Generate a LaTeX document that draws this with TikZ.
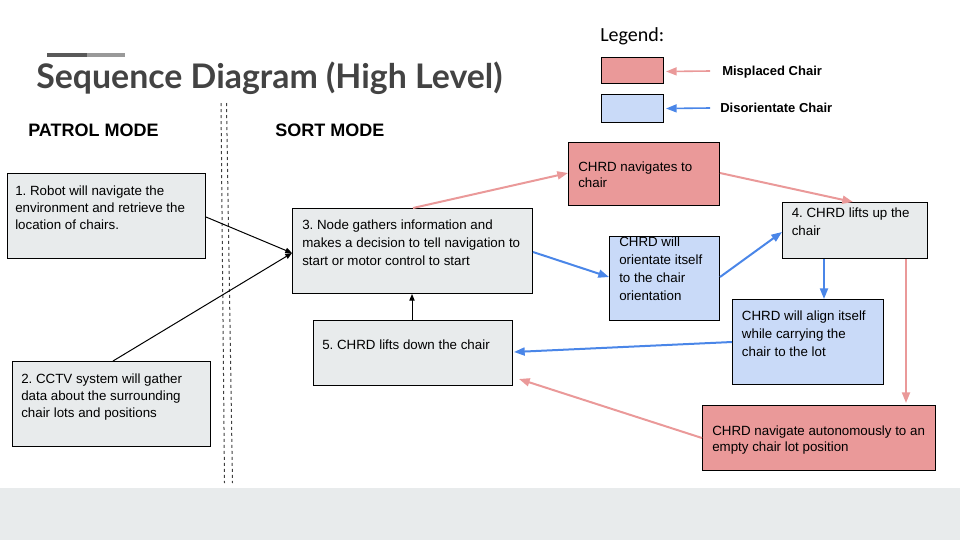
\documentclass[tikz,border=0pt]{standalone}
\usepackage{fontspec}
\setmainfont{Liberation Sans}
\newfontfamily\titlefont{Lato}
\newfontfamily\legendfont{Carlito}
\usetikzlibrary{arrows.meta,calc}
\definecolor{boxgrey}{HTML}{E8EBEC}
\definecolor{footgrey}{HTML}{E8EBEC}
\definecolor{redfill}{HTML}{EA9999}
\definecolor{bluefill}{HTML}{C9DAF8}
\definecolor{redline}{HTML}{EA9999}
\definecolor{blueline}{HTML}{4A86E8}
\definecolor{titlegrey}{HTML}{434343}
\definecolor{bardark}{HTML}{595959}
\definecolor{barlight}{HTML}{999999}
\newcommand{\boxtext}[2]{\parbox[t]{#1}{\frenchspacing\raggedright #2}}
\frenchspacing
\tikzset{
  box/.style={draw=black, line width=0.75pt, anchor=north west, inner sep=0pt, fill=boxgrey},
  rbox/.style={box, fill=redfill},
  bbox/.style={box, fill=bluefill},
  txt/.style={anchor=base west, inner sep=0pt, font=\fontsize{10}{13.5}\selectfont},
  blk/.style={-{Triangle[length=5pt,width=4pt]}, line width=0.75pt, draw=black},
  redarr/.style={-{Triangle[length=8pt,width=6pt]}, line width=1.5pt, draw=redline},
  bluarr/.style={-{Triangle[length=8pt,width=6pt]}, line width=1.5pt, draw=blueline},
  divider/.style={draw=black!75, line width=0.75pt, dash pattern=on 2.25pt off 2.25pt},
}
\begin{document}
\begin{tikzpicture}[x=0.75pt,y=-0.75pt]
\useasboundingbox (0,0) rectangle (960,540);
% footer band
\fill[footgrey] (0,488) rectangle (960,540);
% title bars
\fill[bardark] (47,53) rectangle (87,57);
\fill[barlight] (87,53) rectangle (125,57);
\node[anchor=base west, inner sep=0pt, font=\titlefont\bfseries\fontsize{25.4}{30}\selectfont, text=titlegrey] (title) at (36,88) {Sequence Diagram (High Level)};
% mode labels
\node[anchor=base west, inner sep=0pt, font=\bfseries\fontsize{13.5}{16}\selectfont] (patrol) at (28,136) {PATROL MODE};
\node[anchor=base west, inner sep=0pt, font=\bfseries\fontsize{13.5}{16}\selectfont] (sort) at (275,136) {SORT MODE};
% dividers
\coordinate (d1a) at (221,103); \coordinate (d1b) at (224.5,483);
\coordinate (d2a) at (226.5,103); \coordinate (d2b) at (232.5,483);
\draw[divider] (d1a) -- (d1b);
\draw[divider] (d2a) -- (d2b);
% legend
\node[anchor=base west, inner sep=0pt, font=\legendfont\fontsize{15}{18}\selectfont] (legend) at (600,41.7) {Legend:};
\node[rbox, minimum width=62*0.75pt, minimum height=26*0.75pt] (lr) at (601,57) {};
\node[bbox, minimum width=62*0.75pt, minimum height=28*0.75pt] (lb) at (601,94) {};
\node[anchor=base west, inner sep=0pt, font=\bfseries\fontsize{9.75}{12}\selectfont] (lmis) at (722,75) {Misplaced Chair};
\node[anchor=base west, inner sep=0pt, font=\bfseries\fontsize{9.75}{12}\selectfont] (ldis) at (720,112.7) {Disorientate Chair};
\coordinate (lrs) at (710,71);
\coordinate (lbs) at (710,108);
\draw[redarr, line width=1.2pt] (lrs) -- ($(lr.east)+(2,1)$);
\draw[bluarr, line width=1.2pt] (lbs) -- ($(lb.east)+(2,0)$);
% boxes
\node[box, minimum width=198*0.75pt, minimum height=85*0.75pt] (b1) at (7,173) {};
\node[box, minimum width=198*0.75pt, minimum height=85*0.75pt] (b2) at (12,361) {};
\node[box, minimum width=240*0.75pt, minimum height=85*0.75pt] (b3) at (292,208) {};
\node[box, minimum width=199*0.75pt, minimum height=65*0.75pt] (b5) at (313,320) {};
\node[rbox, minimum width=151*0.75pt, minimum height=63*0.75pt] (nav) at (568,142) {};
\node[box, minimum width=145*0.75pt, minimum height=56*0.75pt] (b4) at (782,202) {};
\node[bbox, minimum width=110*0.75pt, minimum height=84*0.75pt] (ori) at (609,236) {};
\node[bbox, minimum width=151*0.75pt, minimum height=85*0.75pt] (ali) at (732,299) {};
\node[rbox, minimum width=233*0.75pt, minimum height=65*0.75pt] (emp) at (702,405) {};
% texts
\node[txt, font=\fontsize{10}{12.75}\selectfont] (t1) at (15,195) {\boxtext{140pt}{1. Robot will navigate the\\environment and retrieve the\\location of chairs.}};
\node[txt, font=\fontsize{10}{13.1}\selectfont] (t2) at (21,383) {\boxtext{140pt}{2. CCTV system will gather\\data about the surrounding\\chair lots and positions}};
\node[txt] (t3) at (302,229) {\boxtext{170pt}{3. Node gathers information and\\makes a decision to tell navigation to\\start or motor control to start}};
\node[txt] (t5) at (322,349) {\boxtext{140pt}{5. CHRD lifts down the chair}};
\node[txt, font=\fontsize{10}{12}\selectfont] (tnav) at (578,171) {\boxtext{100pt}{CHRD navigates to\\chair}};
\node[txt, font=\fontsize{10}{13.1}\selectfont] (t4) at (791.5,217.7) {\boxtext{100pt}{4. CHRD lifts up the\\chair}};
\node[txt] (tori) at (619,246.7) {\boxtext{75pt}{CHRD will\\orientate itself\\to the chair\\orientation}};
\node[txt] (tali) at (741.7,320) {\boxtext{105pt}{CHRD will align itself\\while carrying the\\chair to the lot}};
\node[txt, font=\fontsize{10}{12}\selectfont] (temp) at (712,435) {\boxtext{165pt}{CHRD navigate autonomously to an\\empty chair lot position}};
% connectors
\coordinate (in3) at ($(b3.north west)+(0,45)$);
\draw[blk] ($(b1.north east)+(0,44)$) -- (in3);
\draw[blk] ($(b2.north west)+(101,0)$) -- (in3);
\draw[blk] ($(b5.north west)+(99,0)$) -- ($(b3.south west)+(120,0)$);
\draw[redarr] ($(b3.north west)+(121,0)$) -- ($(nav.north west)+(0,31)$);
\draw[redarr] ($(nav.north east)+(0,31)$) -- ($(b4.north west)+(71,0)$);
\draw[redarr] ($(b4.south west)+(124,0)$) -- ($(emp.north west)+(204,-2)$);
\coordinate (r4end) at ($(b5.south east)+(6,-7)$);
\draw[redarr] ($(emp.north west)+(0,33)$) -- (r4end);
\draw[bluarr] ($(b3.north east)+(0,44)$) -- ($(ori.north west)+(0,41)$);
\draw[bluarr] ($(ori.north east)+(0,41)$) -- ($(b4.north west)+(0,30)$);
\draw[bluarr] ($(b4.south west)+(42,0)$) -- ($(ali.north west)+(92,0)$);
\draw[bluarr] ($(ali.north west)+(0,43)$) -- ($(b5.north east)+(1,32)$);
\end{tikzpicture}
\end{document}
